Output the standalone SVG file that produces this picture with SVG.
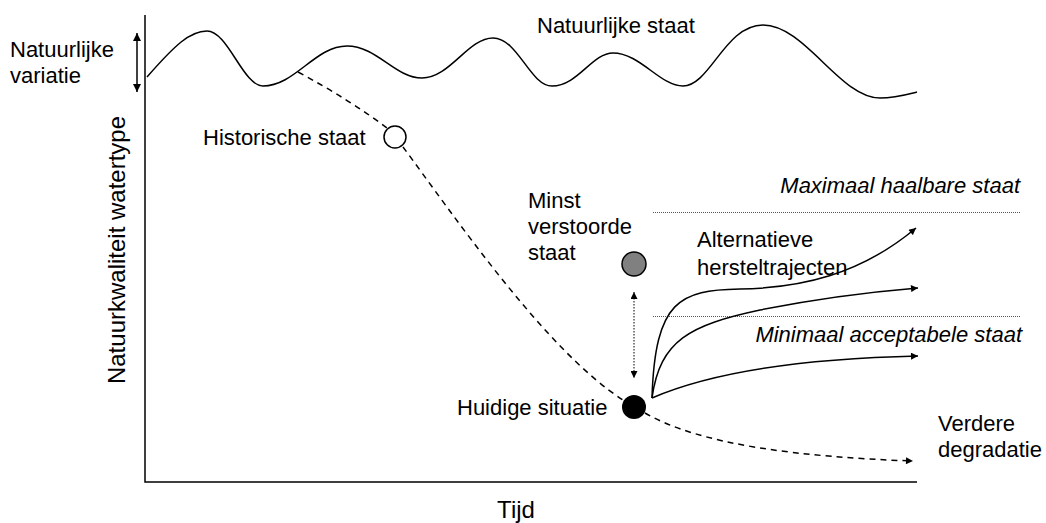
<svg xmlns="http://www.w3.org/2000/svg" width="1046" height="523" viewBox="0 0 1046 523">
<defs>
<marker id="ah" viewBox="0 0 10 10" refX="10" refY="5" markerWidth="10" markerHeight="8" markerUnits="userSpaceOnUse" orient="auto-start-reverse"><path d="M0,0 L10,5 L0,10 Z" fill="#000"/></marker>
<marker id="ahs" viewBox="0 0 10 10" refX="10" refY="5" markerWidth="8" markerHeight="7" markerUnits="userSpaceOnUse" orient="auto-start-reverse"><path d="M0,0 L10,5 L0,10 Z" fill="#000"/></marker>
</defs>
<style>
text{font-family:"Liberation Sans",Arial,sans-serif;font-size:22px;fill:#000}
.it{font-style:italic}
.ax{font-size:24px}
.line{fill:none;stroke:#000;stroke-width:1.5}
.dash{fill:none;stroke:#000;stroke-width:1.5;stroke-dasharray:6,5}
.dot{fill:none;stroke:#555;stroke-width:1;stroke-dasharray:1,1}
</style>
<rect width="1046" height="523" fill="#fff"/>
<g id="axes">
<path class="line" d="M145,15 V482 H917"/>
<text class="ax" transform="translate(125,250) rotate(-90)" text-anchor="middle">Natuurkwaliteit watertype</text>
<text class="ax" x="516" y="518" text-anchor="middle">Tijd</text>
</g>
<g id="natuurlijke-staat">
<path class="line" d="M147,77 C175,45 190,31 207,31 C228,31 243,86 263,86 C295,86 315,46 347,46 C377,46 395,78 422,78 C450,78 468,38 493,38 C518,38 530,86 552,86 C578,86 592,53 613,53 C640,53 660,86 683,86 C710,86 725,25 763,25 C805,25 840,98 880,98 C895,98 905,95 917,92"/>
<text x="537" y="33">Natuurlijke staat</text>
</g>
<g id="natuurlijke-variatie">
<text x="10" y="57">Natuurlijke</text>
<text x="10" y="83">variatie</text>
</g>
<g id="historische-staat">
<circle cx="395" cy="137" r="11" fill="#fff" stroke="#000" stroke-width="1.5"/>
<text x="203" y="145">Historische staat</text>
</g>
<g id="minst-verstoorde-staat">
<circle cx="634" cy="264" r="12" fill="#808080" stroke="#000" stroke-width="1.5"/>
<text x="528" y="208">Minst</text>
<text x="528" y="234">verstoorde</text>
<text x="528" y="260">staat</text>
</g>
<g id="huidige-situatie">
<circle cx="634" cy="407" r="12" fill="#000"/>
<text x="457" y="415">Huidige situatie</text>
</g>
<g id="maximaal">
<line class="dot" x1="653" y1="212.5" x2="1021" y2="212.5"/>
<text class="it" x="1020" y="193" text-anchor="end">Maximaal haalbare staat</text>
</g>
<g id="minimaal">
<line class="dot" x1="653" y1="316.5" x2="1021" y2="316.5"/>
<text class="it" x="1022" y="342" text-anchor="end">Minimaal acceptabele staat</text>
</g>
<g id="alternatieve">
<text x="697" y="247">Alternatieve</text>
<text x="697" y="275">hersteltrajecten</text>
</g>
<g id="verdere-degradatie">
<text x="938" y="431">Verdere</text>
<text x="938" y="457">degradatie</text>
</g>
<g id="connectors">
<path class="line" d="M137,33 V92" marker-start="url(#ah)" marker-end="url(#ah)"/>
<path class="dash" d="M298,72 Q350,100 387,128"/>
<path class="dash" d="M403,147 C450,210 545,350 623,400"/>
<path class="dash" d="M645,413 C700,445 800,457 913,461" marker-end="url(#ahs)"/>
<path fill="none" stroke="#000" stroke-width="1" stroke-dasharray="1.5,1.5" d="M634,292 V378" marker-start="url(#ahs)" marker-end="url(#ahs)"/>
<path class="line" d="M652,398 C655,300 680,290 740,289 C800,288 860,275 916,228" marker-end="url(#ahs)"/>
<path class="line" d="M652,398 C660,340 690,325 760,310 C820,298 870,292 918,288" marker-end="url(#ahs)"/>
<path class="line" d="M652,398 Q740,360 918,356" marker-end="url(#ahs)"/>
</g>
</svg>
